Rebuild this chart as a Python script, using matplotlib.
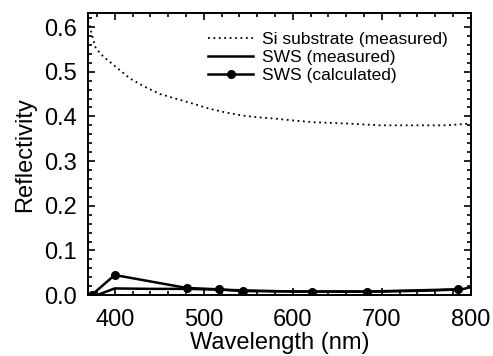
import matplotlib
matplotlib.use('Agg')
import matplotlib.pyplot as plt
from matplotlib.ticker import MultipleLocator

plt.rcParams['font.family'] = ['Liberation Sans', 'DejaVu Sans']

# Si substrate (measured) - dotted
si_wl = [370, 372, 378, 384, 389, 400, 417, 434, 451, 468, 487, 505, 524,
         543, 561, 580, 600, 623, 661, 698, 735, 773, 800]
si_r = [0.615, 0.602, 0.556, 0.540, 0.531, 0.513, 0.485, 0.466, 0.450, 0.440,
        0.429, 0.418, 0.409, 0.402, 0.398, 0.395, 0.391, 0.387, 0.384, 0.380,
        0.380, 0.380, 0.384]

# SWS (measured) - solid
meas_wl = [370, 380, 400, 440, 481, 520, 560, 600, 650, 700, 750, 790, 800]
meas_r = [-0.01, 0.0, 0.015, 0.014, 0.014, 0.012, 0.010, 0.008, 0.008, 0.008,
          0.010, 0.013, 0.018]

# SWS (calculated) - solid with markers
calc_wl = [374, 400, 481, 517, 544, 622, 683, 786]
calc_r = [0.0, 0.045, 0.016, 0.013, 0.009, 0.008, 0.008, 0.013]

fig = plt.figure(figsize=(4.93, 3.56), dpi=100)
ax = fig.add_axes([0.1785, 0.171, 0.7765, 0.792])

ax.plot(si_wl, si_r, color='black', lw=1.3, ls=(0, (1, 2)),
        label='Si substrate (measured)')
ax.plot(meas_wl, meas_r, color='black', lw=1.8, label='SWS (measured)')
ax.plot(calc_wl, calc_r, color='black', lw=1.8, marker='o', ms=5.5,
        label='SWS (calculated)')

ax.set_xlim(370, 800)
ax.set_ylim(0.0, 0.631)
ax.xaxis.set_major_locator(MultipleLocator(100))
ax.xaxis.set_minor_locator(MultipleLocator(20))
ax.yaxis.set_major_locator(MultipleLocator(0.1))
ax.yaxis.set_minor_locator(MultipleLocator(0.02))
ax.yaxis.set_major_formatter(matplotlib.ticker.FormatStrFormatter('%.1f'))

ax.tick_params(which='both', direction='in', top=True, right=True,
               labelsize=17, width=1.2)
ax.tick_params(axis='x', which='major', length=5, pad=10)
ax.tick_params(axis='y', which='major', length=5, pad=8)
ax.tick_params(which='minor', length=3)
for s in ax.spines.values():
    s.set_linewidth(1.4)

ax.set_xlabel('Wavelength (nm)', fontsize=17, labelpad=1)
ax.set_ylabel('Reflectivity', fontsize=17, labelpad=6)

ax.legend(loc='upper left', bbox_to_anchor=(0.296, 0.957), frameon=False,
          fontsize=12.5, handlelength=2.6, handletextpad=0.5,
          labelspacing=0.15, borderaxespad=0)

fig.savefig('out.png', dpi=100)
